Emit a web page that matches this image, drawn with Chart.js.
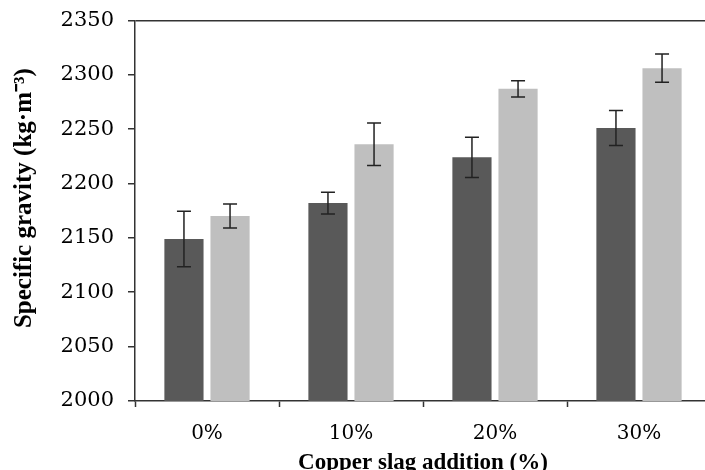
<!DOCTYPE html>
<html>
<head>
<meta charset="utf-8">
<script src="https://cdn.jsdelivr.net/npm/chart.js@4"></script>
<style>
  html, body { margin: 0; padding: 0; background: #fff; overflow: hidden; }
  #wrap { width: 711px; height: 470px; }
</style>
</head>
<body>
<div id="wrap"><canvas id="grafico"></canvas></div>
<script>
const categorias = ["0%", "10%", "20%", "30%"];
const valoresEscuros = [2149, 2182, 2224, 2251];
const errosEscuros = [25.5, 10, 18.5, 16];
const valoresClaros = [2170, 2236, 2287, 2306];
const errosClaros = [11, 19.5, 7.5, 13];
const ticksY = [2000, 2050, 2100, 2150, 2200, 2250, 2300, 2350];

const corEixo = "#333";

// barras de erro desenhadas por cima das barras
const barrasErro = {
  id: "barrasErro",
  afterDatasetsDraw(chart) {
    const ctx = chart.ctx;
    const y = chart.scales.y;
    const erros = [errosEscuros, errosClaros];
    ctx.save();
    ctx.strokeStyle = "#222";
    ctx.lineWidth = 1.5;
    chart.data.datasets.forEach((ds, d) => {
      const meta = chart.getDatasetMeta(d);
      meta.data.forEach((bar, i) => {
        const v = ds.data[i];
        const e = erros[d][i];
        const topo = y.getPixelForValue(v + e);
        const base = y.getPixelForValue(v - e);
        const x = bar.x;
        ctx.beginPath();
        ctx.moveTo(x, topo); ctx.lineTo(x, base);
        ctx.moveTo(x - 7, topo); ctx.lineTo(x + 7, topo);
        ctx.moveTo(x - 7, base); ctx.lineTo(x + 7, base);
        ctx.stroke();
      });
    });
    ctx.restore();
  }
};

new Chart(document.getElementById("grafico"), {
  type: "bar",
  data: {
    labels: categorias,
    datasets: [
      { data: valoresEscuros, backgroundColor: "#595959", categoryPercentage: 0.64, barPercentage: 0.85 },
      { data: valoresClaros, backgroundColor: "#bfbfbf", categoryPercentage: 0.64, barPercentage: 0.85 }
    ]
  },
  options: {
    responsive: true,
    maintainAspectRatio: false,
    animation: false,
    layout: { padding: { top: 18, left: 0, right: 0, bottom: 0 } },
    plugins: {
      legend: { display: false },
      tooltip: { enabled: false }
    },
    scales: {
      x: {
        offset: true,
        grid: {
          offset: true,
          drawOnChartArea: false,
          tickLength: 6,
          tickColor: corEixo,
          tickWidth: 1.5
        },
        border: { color: corEixo, width: 1.5 },
        ticks: {
          color: "#000",
          padding: 15,
          font: { family: "DejaVu Serif", size: 20 }
        },
        title: {
          display: true,
          text: "Copper slag addition (%)",
          color: "#000",
          padding: 0,
          font: { family: "Liberation Serif", size: 23, weight: "bold", lineHeight: 0.6 }
        },
        afterFit(scale) { scale.height = 69; }
      },
      y: {
        min: 2000,
        max: 2350,
        afterBuildTicks(scale) { scale.ticks = ticksY.map(v => ({ value: v })); },
        grid: {
          color: c => (c.tick && c.tick.value === 2350 ? corEixo : "rgba(0,0,0,0)"),
          lineWidth: 1.5,
          tickColor: corEixo,
          tickLength: 7,
          tickWidth: 1.5
        },
        border: { color: corEixo, width: 1.5 },
        ticks: {
          color: "#000",
          padding: 14,
          font: { family: "DejaVu Serif", size: 21, lineHeight: 0.6 },
          callback: v => String(v)
        },
        title: {
          display: true,
          text: "    Specific gravity (kg·m⁻³)",
          color: "#000",
          padding: { top: 10, bottom: 0 },
          font: { family: "Liberation Serif", size: 25, weight: "bold", lineHeight: 1.2 }
        },
        afterFit(scale) { scale.width = 135; }
      }
    }
  },
  plugins: [barrasErro]
});
</script>
</body>
</html>
